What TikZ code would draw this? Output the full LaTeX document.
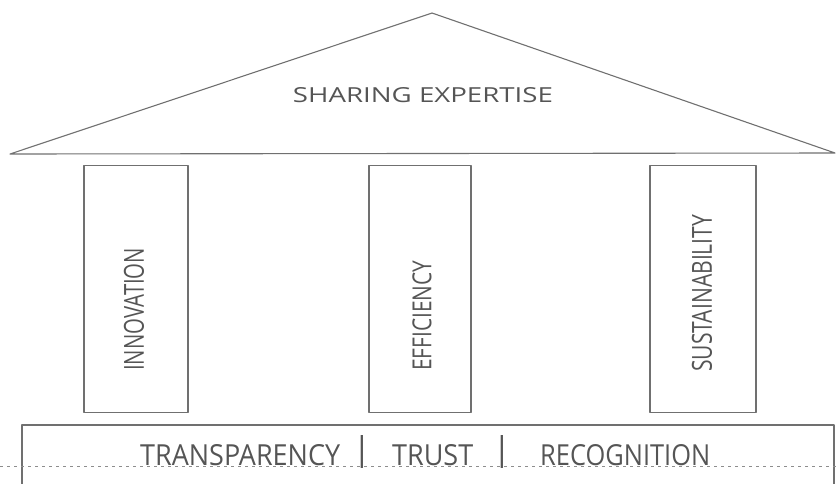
\documentclass[tikz,border=0pt]{standalone}
\usepackage{fontspec}
\setmainfont{Open Sans}
\usepackage{graphicx}
\definecolor{linegray}{HTML}{707070}
\definecolor{textgray}{HTML}{555555}
\begin{document}
\begin{tikzpicture}[x=1pt,y=-1pt,
  outline/.style={draw=linegray,line width=1.1pt,line join=round},
  label/.style={inner sep=0pt,text=textgray},
  pillartext/.style={label,rotate=90,anchor=west},
  basedash/.style={draw=linegray!80,line width=0.8pt,dash pattern=on 3pt off 4pt}]
\useasboundingbox (0,0) rectangle (837,483);
% roof
\coordinate (rl) at (10,154);
\coordinate (ra) at (432,13);
\coordinate (rr) at (835,153);
\draw[outline] (rl) -- (ra) -- (rr) -- cycle;
\node[label,anchor=south] (roof) at (423,103) {\resizebox{260pt}{15pt}{SHARING EXPERTISE}};
% pillars
\node[outline,minimum width=104pt,minimum height=247pt,inner sep=0pt] (p1) at (136,289) {};
\node[outline,minimum width=102pt,minimum height=247pt,inner sep=0pt] (p2) at (420,289) {};
\node[outline,minimum width=106pt,minimum height=247pt,inner sep=0pt] (p3) at (703,289) {};
\node[pillartext] (t1) at (134,371) {\resizebox{123pt}{20pt}{INNOVATION}};
\node[pillartext] (t2) at (422,371) {\resizebox{110pt}{19pt}{EFFICIENCY}};
\node[pillartext] (t3) at (702,372) {\resizebox{157pt}{20pt}{SUSTAINABILITY}};
% base
\draw[outline] (22,490) -- (22,425) -- (834,425) -- (834,490);
\coordinate (dl) at (0,466);
\coordinate (dr) at (837,466);
\draw[basedash] (dl) -- (dr);
\node[label,anchor=south west] (b1) at (140,466) {\resizebox{200pt}{21pt}{TRANSPARENCY}};
\node[label,anchor=south] (s1) at (362,469) {\resizebox{!}{25pt}{|}};
\node[label,anchor=south west] (b2) at (392,466) {\resizebox{81pt}{21pt}{TRUST}};
\node[label,anchor=south] (s2) at (502,469) {\resizebox{!}{25pt}{|}};
\node[label,anchor=south west] (b3) at (540,466) {\resizebox{170pt}{21pt}{RECOGNITION}};
\end{tikzpicture}
\end{document}
